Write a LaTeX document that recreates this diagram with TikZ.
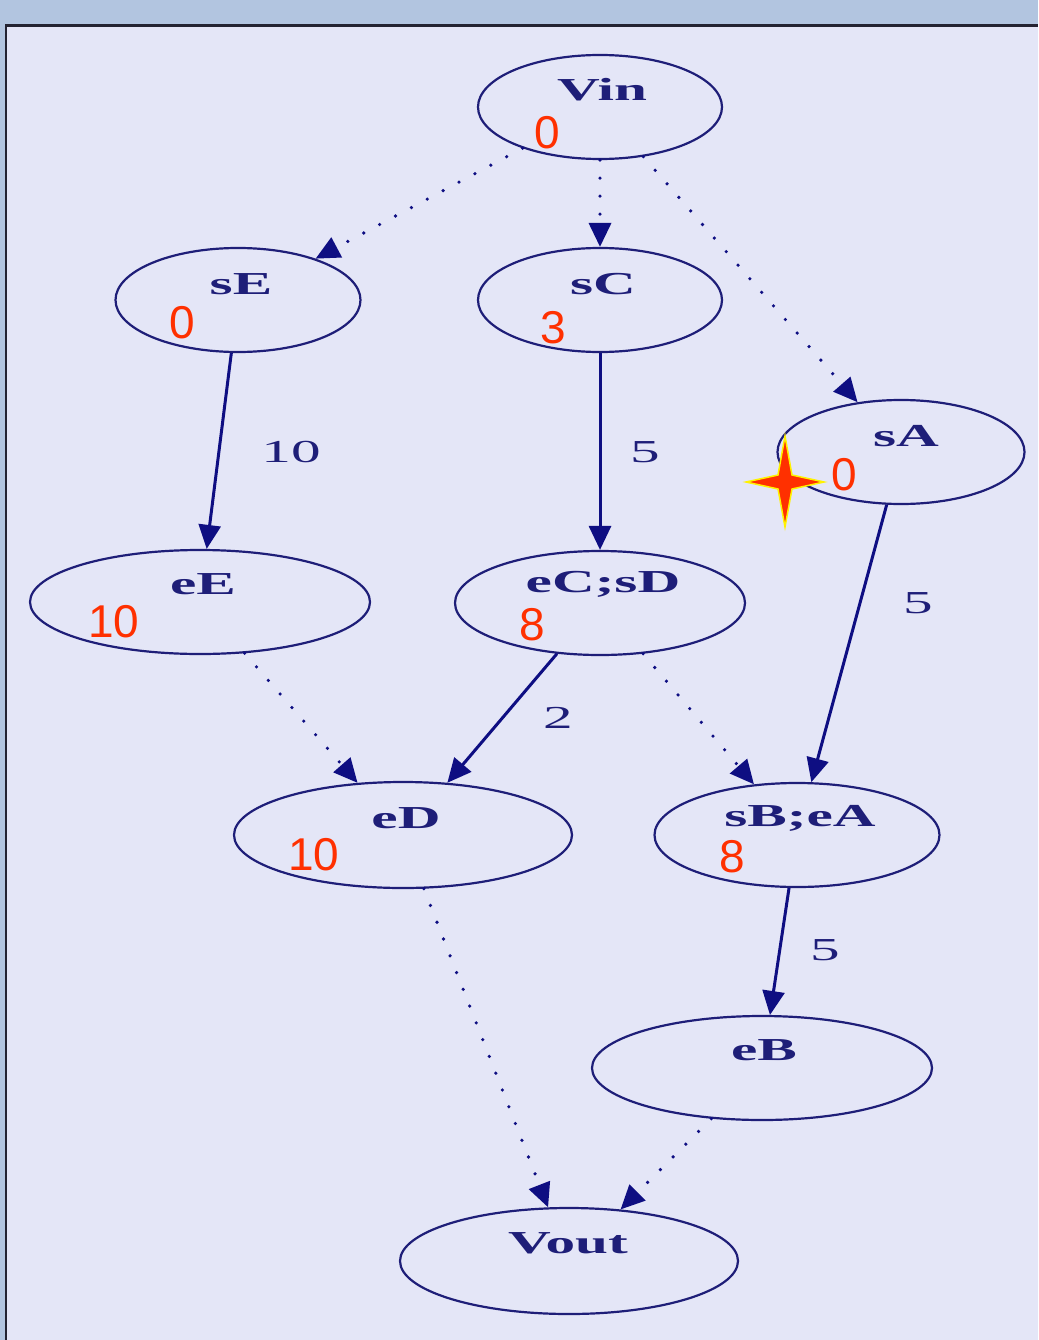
\documentclass[tikz,border=0pt]{standalone}
\usepackage{fontspec}
\usepackage{graphicx}
\setmainfont{Liberation Serif}
\newfontfamily\redfont{Liberation Sans}
\usetikzlibrary{shapes.geometric,arrows.meta}
\definecolor{bg}{RGB}{228,230,247}
\definecolor{band}{RGB}{178,197,224}
\definecolor{navy}{RGB}{30,30,120}
\definecolor{tipc}{RGB}{14,14,130}
\definecolor{redn}{RGB}{255,48,0}
\definecolor{framec}{RGB}{35,35,50}
\newcommand{\wide}[1]{\scalebox{1.85}[1]{#1}}
\begin{document}
\begin{tikzpicture}[x=1pt,y=-1pt,
 st/.style={ellipse,draw=navy,line width=2.2pt,inner sep=0pt,minimum height=104pt},
 lbl/.style={font=\fontsize{32}{34}\selectfont\bfseries,text=navy,inner sep=0pt},
 num/.style={font=\redfont\fontsize{46}{48}\selectfont,text=redn,inner sep=0pt},
 wt/.style={font=\fontsize{32}{34}\selectfont,text=navy,inner sep=0pt},
 solidarr/.style={draw=tipc,line width=3pt,-{Triangle[length=24pt,width=22pt,fill=tipc]}},
 dotarr/.style={draw=tipc,line width=3.6pt,line cap=round,dash pattern=on 0pt off 18pt,-{Triangle[length=24pt,width=22pt,fill=tipc]}},
]
\useasboundingbox (0,0) rectangle (1038,1340);
\fill[bg] (0,0) rectangle (1038,1340);
\fill[band] (0,0) rectangle (1038,24);
\fill[band] (0,0) rectangle (5,1340);
\draw[framec,line width=2.5pt] (6,1340) -- (6,25.5) -- (1038,25.5);

% nodes
\node[st,minimum width=244pt] (vin) at (600,107) {};
\node[st,minimum width=245pt] (se) at (238,300) {};
\node[st,minimum width=244pt] (sc) at (600,300) {};
\node[st,minimum width=247pt] (sa) at (901,452) {};
\node[st,minimum width=340pt] (ee) at (200,602) {};
\node[st,minimum width=290pt] (ecsd) at (600,603) {};
\node[st,minimum width=338pt,minimum height=106pt] (ed) at (403,835) {};
\node[st,minimum width=285pt] (sbea) at (797,835) {};
\node[st,minimum width=340pt] (eb) at (762,1068) {};
\node[st,minimum width=338pt,minimum height=106pt] (vout) at (569,1261) {};

% labels
\node[lbl] (vinT) at (602,90) {\wide{Vin}};
\node[lbl] (seT) at (241,284) {\wide{sE}};
\node[lbl] (scT) at (603,284) {\wide{sC}};
\node[lbl] (saT) at (906,436) {\wide{sA}};
\node[lbl] (eeT) at (203,584) {\wide{eE}};
\node[lbl] (ecsdT) at (603,584) {\wide{eC;sD}};
\node[lbl] (edT) at (406,818) {\wide{eD}};
\node[lbl] (sbeaT) at (800,818) {\wide{sB;eA}};
\node[lbl] (ebT) at (764,1050) {\wide{eB}};
\node[lbl] (voutT) at (568,1243) {\wide{Vout}};

% red numbers
\node[num] (n1) at (547,133) {0};
\node[num] (n2) at (182,323) {0};
\node[num] (n3) at (553,328) {3};
\node[num] (n4) at (844,475) {0};
\node[num] (n5) at (114,622) {10};
\node[num] (n6) at (532,625) {8};
\node[num] (n7) at (314,855) {10};
\node[num] (n8) at (732,857) {8};

% star
\filldraw[fill=redn,draw=yellow,line width=1.5pt] (785,436) -- (792,475) -- (824,482) -- (792,489) -- (785,527) -- (778,489) -- (746,482) -- (778,475) -- cycle;

% edges
\draw[dotarr] (vin) -- (se);
\draw[dotarr] (vin) -- (sc);
\draw[dotarr] (vin) -- (sa);
\draw[solidarr] (se) -- (ee);
\draw[solidarr] (sc) -- (ecsd);
\draw[solidarr] (sa) -- (sbea);
\draw[dotarr] (ee) -- (ed);
\draw[solidarr] (ecsd) -- (ed);
\draw[dotarr] (ecsd) -- (sbea);
\draw[dotarr] (ed) -- (vout);
\draw[solidarr] (sbea) -- (eb);
\draw[dotarr] (eb) -- (vout);

% weights
\node[wt] (w1) at (291,452) {\wide{10}};
\node[wt] (w2) at (645,452) {\wide{5}};
\node[wt] (w3) at (918,603) {\wide{5}};
\node[wt] (w4) at (558,718) {\wide{2}};
\node[wt] (w5) at (825,950) {\wide{5}};
\end{tikzpicture}
\end{document}
